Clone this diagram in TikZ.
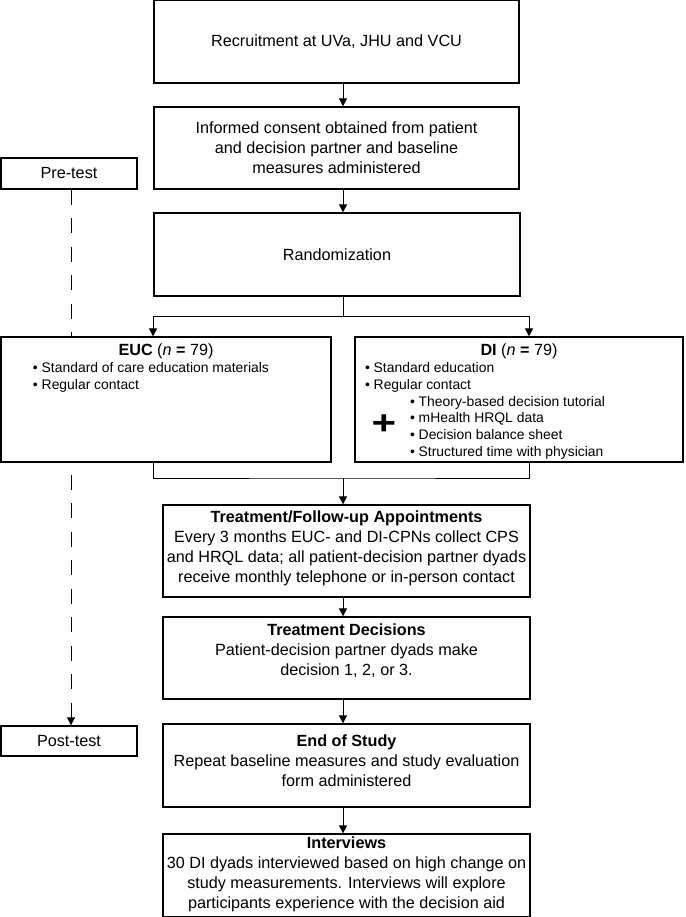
\documentclass[tikz,border=0pt]{standalone}
\usepackage{fontspec}
\setmainfont{Liberation Sans}
\usetikzlibrary{arrows.meta,backgrounds}

\newcommand{\mainsize}{\fontsize{16.2}{19.8}\selectfont}
\newcommand{\listsize}{\fontsize{13.9}{16.8}\selectfont}
% width, height, vertical position, top pad, text
\newcommand{\stagetext}[5]{\parbox[c][#2][#3]{#1}{\vspace*{#4}\centering #5}}

\tikzset{
  stage/.style={draw, line width=1.3pt, inner sep=0pt, fill=white},
  link/.style={line width=1pt},
  flow/.style={line width=1pt, -{Triangle[width=8pt,length=8pt]}},
}

\begin{document}
\begin{tikzpicture}[x=1pt,y=-1pt,font=\mainsize]
  \useasboundingbox (0,0) rectangle (685,917);

  % main column
  \node[stage] (rec) at (336.5,41.5) {\stagetext{365pt}{83pt}{c}{0pt}{Recruitment at UVa, JHU and VCU}};
  \node[stage] (cons) at (336.5,148) {\stagetext{365pt}{82pt}{c}{0pt}{Informed consent obtained from patient\\and decision partner and baseline\\measures administered}};
  \node[stage] (rand) at (337,254.5) {\stagetext{366pt}{83pt}{c}{0pt}{Randomization}};

  % the two arms
  \node[stage] (euc) at (166,399.5) {\parbox[c][125pt][t]{330pt}{\vspace*{7pt}\centering
      \textbf{EUC} (\textit{n} \textbf{=} 79)\par\raggedright\listsize
      \hspace*{32pt}• Standard of care education materials\par
      \hspace*{32pt}• Regular contact\par}};
  \node[stage] (di) at (519,399.5) {\parbox[c][125pt][t]{328pt}{\vspace*{7pt}\centering
      \textbf{DI} (\textit{n} \textbf{=} 79)\par\raggedright\listsize
      \hspace*{10pt}• Standard education\par
      \hspace*{10pt}• Regular contact\par
      \hspace*{55pt}• Theory-based decision tutorial\par
      \hspace*{55pt}• mHealth HRQL data\par
      \hspace*{55pt}• Decision balance sheet\par
      \hspace*{55pt}• Structured time with physician\par}};
  \node (plus) at (384,425) {\scalebox{1}[0.8]{\fontsize{42}{42}\bfseries +}};

  % follow-up column
  \node[stage] (treat) at (346.5,551) {\stagetext{367pt}{92pt}{t}{6pt}{\textbf{Treatment/Follow-up Appointments}\\Every 3 months EUC- and DI-CPNs collect CPS\\and HRQL data; all patient-decision partner dyads\\receive monthly telephone or in-person contact}};
  \node[stage] (dec) at (346.5,658) {\stagetext{367pt}{82pt}{t}{7pt}{\textbf{Treatment Decisions}\\Patient-decision partner dyads make\\decision 1, 2, or 3.}};
  \node[stage] (study) at (346.5,765.5) {\stagetext{367pt}{83pt}{t}{11pt}{\textbf{End of Study}\\Repeat baseline measures and study evaluation\\form administered}};
  \node[stage] (intv) at (346.5,875.5) {\stagetext{367pt}{83pt}{t}{3pt}{\textbf{Interviews}\\30 DI dyads interviewed based on high change on\\study measurements. Interviews will explore\\participants experience with the decision aid}};

  % test points
  \node[stage] (pre) at (69,173.5) {\stagetext{136pt}{31pt}{c}{0pt}{Pre-test}};
  \node[stage] (post) at (69,741) {\stagetext{136pt}{30pt}{c}{0pt}{Post-test}};

  \coordinate (split) at (343,316);
  \coordinate (merge) at (343,478);
  \coordinate (side) at (71,0);

  \draw[flow] (rec.south -| split) -- (cons.north -| split);
  \draw[flow] (cons.south -| split) -- (rand.north -| split);
  \draw[link] (rand.south -| split) -- (split);
  \draw[flow] (split) -| ([xshift=-13pt]euc.north);
  \draw[flow] (split) -| ([xshift=10pt]di.north);
  \draw[link] ([xshift=-13pt]euc.south) |- (merge) -| ([xshift=10pt]di.south);
  \draw[flow] (merge) -- (treat.north -| merge);
  \draw[flow] (treat.south -| merge) -- (dec.north -| merge);
  \draw[flow] (dec.south -| merge) -- (study.north -| merge);
  \draw[flow] (study.south -| merge) -- (intv.north -| merge);

  \begin{scope}[on background layer]
    \draw[flow, line width=0.9pt, dash pattern=on 15pt off 13.5pt] (pre.south -| side) -- (post.north -| side);
  \end{scope}
\end{tikzpicture}
\end{document}
